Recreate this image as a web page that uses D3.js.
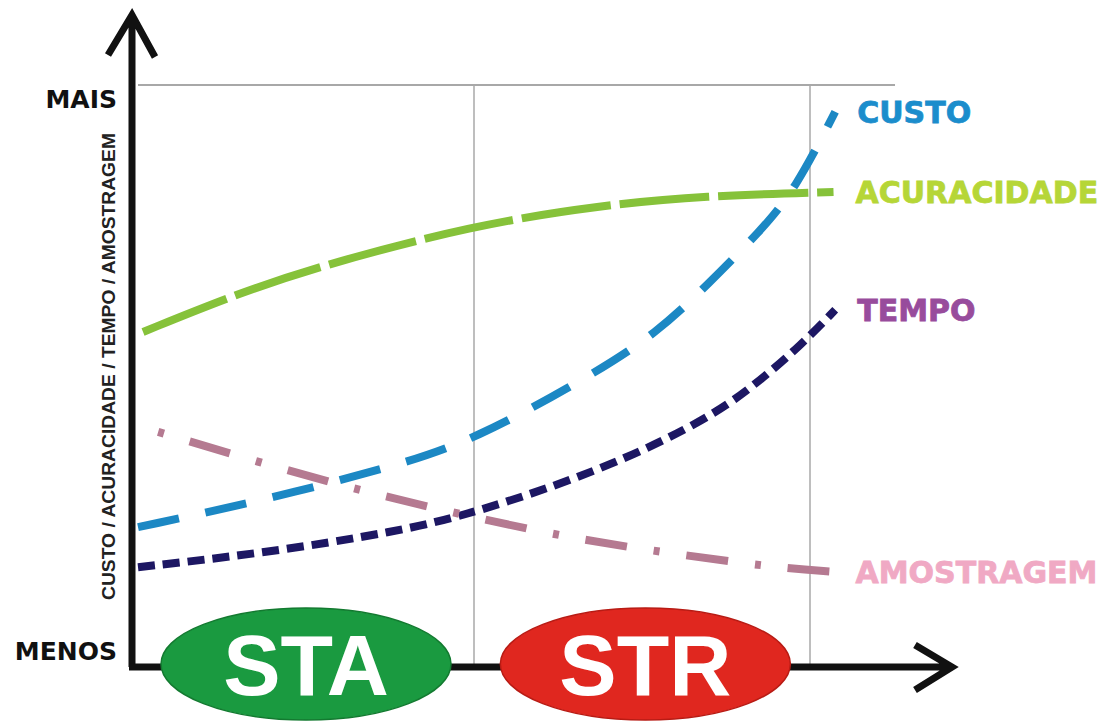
<!DOCTYPE html>
<html>
<head>
<meta charset="utf-8">
<script src="https://cdn.jsdelivr.net/npm/d3@7"></script>
<style>
  body { margin: 0; background: #fff; }
  text { font-family: "DejaVu Sans", sans-serif; font-weight: bold; }
</style>
</head>
<body>
<svg id="chart" width="1106" height="726"></svg>
<script>
// x: 0 = origem, 1 = fronteira STA/STR, 2 = fim de STR ; y: 0 = MENOS, 100 = MAIS
const series = ['CUSTO', 'ACURACIDADE', 'TEMPO', 'AMOSTRAGEM']
const custoX = [0, 0.35, 0.76, 1.0, 1.34, 1.545, 1.70, 1.85, 1.955, 2.075]
const custoY = [23.9, 28.2, 34.3, 38.9, 49.7, 57.3, 65.9, 74.7, 81.9, 95.4]
const acurX = [0.015, 0.27, 0.53, 1.0, 1.38, 1.68, 2.07]
const acurY = [57.5, 63.5, 68.7, 75.9, 79.3, 80.9, 81.6]
const tempoX = [0, 0.37, 0.77, 1.0, 1.38, 1.68, 1.83, 1.98, 2.075]
const tempoY = [17.0, 19.4, 23.1, 26.3, 33.7, 42.0, 48.0, 55.6, 61.3]
const amosX = [0.06, 0.37, 0.667, 0.967, 1.27, 1.58, 1.89, 2.07]
const amosY = [40.3, 34.9, 30.1, 26.0, 22.2, 19.4, 17.0, 16.2]
const phases = ['STA', 'STR']
const phaseMid = [0.50, 1.51]

let svg = d3.select('#chart')
let x = d3.scaleLinear().domain([0, 2]).range([138, 810]),
    y = d3.scaleLinear().domain([0, 100]).range([666, 85])

let ax = 132, ay = 667

// grade cinza
svg.append('line')
    .attr('x1', x(0)).attr('x2', x(2.253))
    .attr('y1', y(100)).attr('y2', y(100))
    .style('stroke', '#a8a8a8').style('stroke-width', 2)
svg.append('g').selectAll('line')
    .data([1, 2])
    .join('line')
    .attr('x1', d => x(d)).attr('x2', d => x(d))
    .attr('y1', y(100)).attr('y2', ay)
    .style('stroke', '#a8a8a8').style('stroke-width', 1.5)

// eixos com setas
svg.append('path')
    .attr('d', `M${ax},${ay} V15 M108,55 L${ax},15 L155,57`)
    .style('fill', 'none').style('stroke', '#111').style('stroke-width', 7)
    .style('stroke-linejoin', 'miter')
svg.append('path')
    .attr('d', `M${ax - 3},${ay} H950 M915,645 L952,${ay} L915,690`)
    .style('fill', 'none').style('stroke', '#111').style('stroke-width', 7)

svg.append('text').attr('x', 117).attr('y', 108).attr('text-anchor', 'end')
    .style('font-size', '25px').style('fill', '#111').text('MAIS')
svg.append('text').attr('x', 117).attr('y', 660).attr('text-anchor', 'end')
    .style('font-size', '25px').style('fill', '#111').text('MENOS')
svg.append('text')
    .attr('transform', 'translate(115,600) rotate(-90)')
    .attr('textLength', 467).attr('lengthAdjust', 'spacingAndGlyphs')
    .style('font-family', '"Liberation Sans", Arial, sans-serif')
    .style('font-size', '18px').style('fill', '#222')
    .text('CUSTO / ACURACIDADE / TEMPO / AMOSTRAGEM')

// curvas
let line = d3.line().x(d => x(d[0])).y(d => y(d[1])).curve(d3.curveBasis)
let zip = (a, b) => a.map((v, i) => [v, b[i]])
let curves = [
    {name: series[0], pts: zip(custoX, custoY), color: '#1c88c4', dash: '42,27', label: '#1b8dcc'},
    {name: series[1], pts: zip(acurX, acurY), color: '#86c23a', dash: '90,9', label: '#b6d637'},
    {name: series[2], pts: zip(tempoX, tempoY), color: '#1d1763', dash: '17,8', label: '#984c9c'},
    {name: series[3], pts: zip(amosX, amosY), color: '#b57a91', dash: '6,27,42,27', label: '#f0a9c4'}
]

svg.append('g').selectAll('path')
    .data(curves)
    .join('path')
    .attr('d', d => line(d.pts))
    .style('fill', 'none')
    .style('stroke', d => d.color)
    .style('stroke-width', 8)
    .style('stroke-dasharray', d => d.dash)

svg.append('g').selectAll('text')
    .data(curves)
    .join('text')
    .attr('x', d => x(d.pts[d.pts.length - 1][0]) + 22)
    .attr('y', d => y(d.pts[d.pts.length - 1][1]) + 11)
    .style('font-size', '30px')
    .style('fill', d => d.label)
    .style('stroke', d => d.label)
    .style('stroke-width', 0.8)
    .text(d => d.name)

// fases
let ph = svg.append('g').selectAll('g')
    .data(phases)
    .join('g')
    .attr('transform', (d, i) => `translate(${x(phaseMid[i])},664)`)
ph.append('ellipse')
    .attr('rx', 145).attr('ry', 56)
    .style('fill', (d, i) => i ? '#e0271f' : '#1a9a40')
    .style('stroke', (d, i) => i ? '#b81b14' : '#137a30')
    .style('stroke-width', 1.5)
ph.append('text')
    .attr('y', 31).attr('text-anchor', 'middle')
    .style('font-family', '"Liberation Sans", Arial, sans-serif')
    .style('font-size', '86px').style('fill', '#fff')
    .text(d => d)
</script>
</body>
</html>
